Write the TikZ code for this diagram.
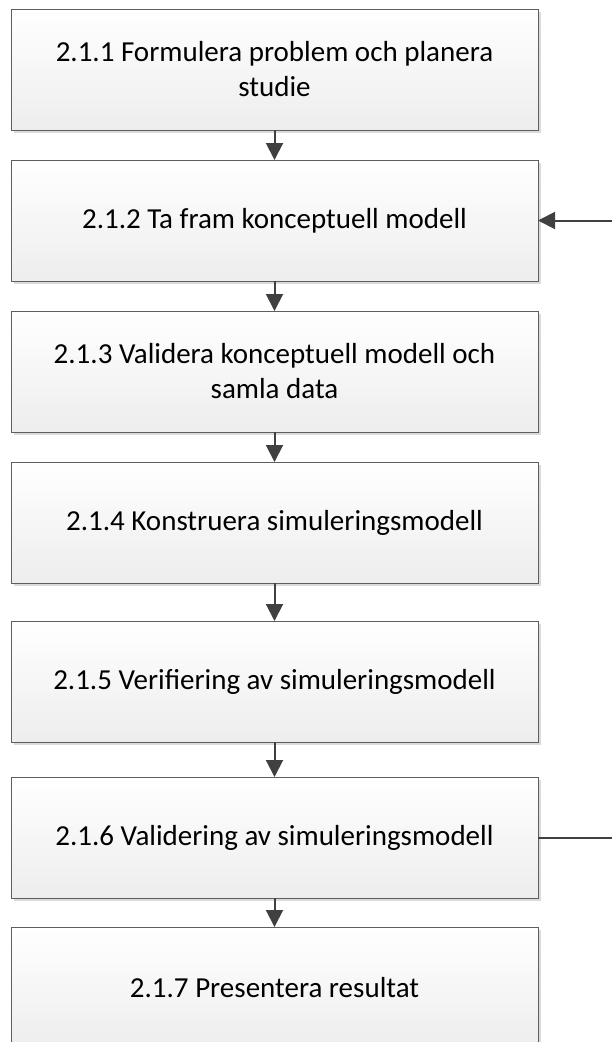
\documentclass[tikz,border=0pt]{standalone}
\usepackage{fontspec}
\setmainfont{Carlito}
\usetikzlibrary{arrows.meta, positioning, shadows}
\definecolor{linegray}{HTML}{404040}
\definecolor{boxgray}{HTML}{5E5E5E}

\begin{document}
\begin{tikzpicture}[x=1pt, y=1pt, node distance=30pt, >={Triangle[length=17pt,width=17pt]}]
        % Stiler
        \tikzstyle{block} = [draw=boxgray, line width=1pt, rectangle, outer sep=0pt, minimum height=121pt, minimum width=527pt, align=center, top color=white, bottom color=black!7, font=\fontsize{29}{35}\selectfont, drop shadow={shadow xshift=3pt, shadow yshift=-3pt, fill=black!14, opacity=1}]
        \tikzstyle{flow} = [->, draw=linegray, line width=2pt]

        \useasboundingbox (0,0) rectangle (612,-1042);
        \clip (0,0) rectangle (612,-1042);

        % --- Stegen ---
        \node [block] (b1) at (274.5,-69.5) {2.1.1 Formulera problem och planera\\ studie};
        \node [block, below=30pt of b1] (b2) {2.1.2 Ta fram konceptuell modell};
        \node [block, below=30pt of b2] (b3) {2.1.3 Validera konceptuell modell och\\ samla data};
        \node [block, below=30pt of b3] (b4) {2.1.4 Konstruera simuleringsmodell};
        \node [block, below=38pt of b4] (b5) {2.1.5 Verifiering av simuleringsmodell};
        \node [block, below=35pt of b5] (b6) {2.1.6 Validering av simuleringsmodell};
        \node [block, below=29pt of b6] (b7) {2.1.7 Presentera resultat};

        % --- Pilar ---
        \draw [flow] (b1) -- (b2);
        \draw [flow] (b2) -- (b3);
        \draw [flow] (b3) -- (b4);
        \draw [flow] (b4) -- (b5);
        \draw [flow] (b5) -- (b6);
        \draw [flow] (b6) -- (b7);

        % --- Återkoppling ---
        \coordinate (rim) at (612,0);
        \coordinate (back_in) at (b2.east -| rim);
        \coordinate (back_out) at (b6.east -| rim);
        \draw [flow] (back_in) -- (b2.east);
        \draw [flow, -] (b6.east) -- (back_out);

    \end{tikzpicture}
\end{document}
